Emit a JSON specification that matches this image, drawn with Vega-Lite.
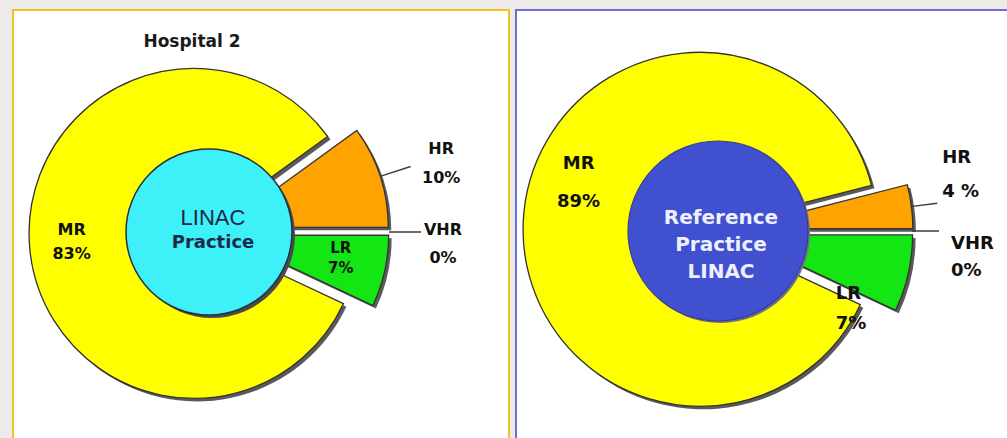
{
  "$schema": "https://vega.github.io/schema/vega-lite/v6.json",
  "background": "#ecebe8",
  "padding": {"left": 12, "top": 9, "right": 0, "bottom": 0},
  "spacing": 7,
  "bounds": "flush",
  "resolve": {"scale": {"theta": "independent", "color": "independent"}},
  "config": {
    "text": {"font": "DejaVu Sans", "fontWeight": "bold", "color": "#111111"}
  },
  "hconcat": [
    {
      "width": 496,
      "height": 430,
      "view": {"fill": "#ffffff", "stroke": "#f3c31c", "strokeWidth": 2},
      "title": {
        "text": "Hospital 2",
        "font": "DejaVu Sans",
        "fontSize": 17,
        "fontWeight": "bold",
        "color": "#1a1a1a",
        "anchor": "middle",
        "dx": -69,
        "offset": -54,
        "baseline": "alphabetic"
      },
      "data": {
        "values": [
          {"risk": "HR", "pct": 10, "pctText": "10%"},
          {"risk": "VHR", "pct": 0, "pctText": "0%"},
          {"risk": "LR", "pct": 7, "pctText": "7%"},
          {"risk": "MR", "pct": 83, "pctText": "83%"}
        ]
      },
      "transform": [
        {"stack": "pct", "groupby": [], "as": ["t0", "t1"]},
        {"calculate": "(datum.t0 + datum.t1) / 2", "as": "tm"},
        {"calculate": "datum.risk + '\\n' + datum.pctText", "as": "label"}
      ],
      "layer": [
        {
          "transform": [{"filter": "datum.pct > 0"}],
          "mark": {
            "type": "arc", "outerRadius": 165, "innerRadius": 0, "x": 196, "y": 222,
            "fill": "#5a5a5a",
            "xOffset": {"expr": "3 + 15 * sin(0.94248 + datum.tm * 0.0628319)"},
            "yOffset": {"expr": "3 - 15 * cos(0.94248 + datum.tm * 0.0628319)"}
          },
          "encoding": {
            "theta": {"field": "t0", "type": "quantitative", "stack": null, "scale": {"domain": [0, 100], "range": [0.94248, 7.22566]}},
            "theta2": {"field": "t1"}
          }
        },
        {
          "transform": [{"filter": "datum.pct > 0"}],
          "mark": {
            "type": "arc", "outerRadius": 165, "innerRadius": 0, "x": 196, "y": 222,
            "stroke": "#333333", "strokeWidth": 1.3,
            "xOffset": {"expr": "15 * sin(0.94248 + datum.tm * 0.0628319)"},
            "yOffset": {"expr": "-15 * cos(0.94248 + datum.tm * 0.0628319)"}
          },
          "encoding": {
            "theta": {"field": "t0", "type": "quantitative", "stack": null, "scale": {"domain": [0, 100], "range": [0.94248, 7.22566]}},
            "theta2": {"field": "t1"},
            "color": {
              "field": "risk", "type": "nominal", "legend": null,
              "scale": {"domain": ["HR", "VHR", "LR", "MR"], "range": ["#ffa300", "#ffffff", "#14e614", "#ffff00"]}
            }
          }
        },
        {
          "transform": [{"filter": "datum.risk == 'HR' || datum.risk == 'VHR'"}],
          "mark": {
            "type": "arc", "x": 196, "y": 222, "fill": "#3c3c3c",
            "thetaOffset": -0.0035, "theta2Offset": 0.0035
          },
          "encoding": {
            "theta": {"field": "tm", "type": "quantitative", "stack": null, "scale": {"domain": [0, 100], "range": [0.94248, 7.22566]}},
            "theta2": {"field": "tm"},
            "radius": {"value": 212},
            "radius2": {"value": 180}
          }
        },
        {
          "data": {"values": [{"centre": "LINAC Practice"}]},
          "mark": {
            "type": "point", "shape": "circle", "filled": true, "opacity": 1,
            "size": 27556, "x": 199, "y": 225, "fill": "#4a4a4a", "strokeWidth": 0
          },
          "encoding": {}
        },
        {
          "data": {"values": [{"centre": "LINAC Practice"}]},
          "mark": {
            "type": "point", "shape": "circle", "filled": true, "opacity": 1,
            "size": 27556, "x": 196, "y": 222, "fill": "#3ef0f8",
            "stroke": "#24323f", "strokeWidth": 1.5
          },
          "encoding": {}
        },
        {
          "data": {"values": [{"line": "LINAC"}]},
          "mark": {
            "type": "text", "x": 200, "y": 208, "align": "center", "baseline": "middle",
            "font": "Liberation Sans", "fontWeight": "normal", "fontSize": 22, "color": "#1b2a48"
          },
          "encoding": {"text": {"field": "line"}}
        },
        {
          "data": {"values": [{"line": "Practice"}]},
          "mark": {
            "type": "text", "x": 200, "y": 233, "align": "center", "baseline": "middle",
            "fontSize": 18, "color": "#1b2a48"
          },
          "encoding": {"text": {"field": "line"}}
        },
        {
          "transform": [{"filter": "datum.risk == 'MR'"}],
          "mark": {
            "type": "text", "x": 196, "y": 222, "radius": 138, "dy": -15,
            "align": "center", "baseline": "middle", "lineBreak": "\n", "lineHeight": 24, "fontSize": 16
          },
          "encoding": {
            "theta": {"field": "tm", "type": "quantitative", "stack": null, "scale": {"domain": [0, 100], "range": [0.94248, 7.22566]}},
            "text": {"field": "label"}
          }
        },
        {
          "transform": [{"filter": "datum.risk == 'HR'"}],
          "mark": {
            "type": "text", "x": 196, "y": 222, "radius": 242, "dx": 2, "dy": -8,
            "align": "center", "baseline": "middle", "lineBreak": "\n", "lineHeight": 29, "fontSize": 16
          },
          "encoding": {
            "theta": {"field": "tm", "type": "quantitative", "stack": null, "scale": {"domain": [0, 100], "range": [0.94248, 7.22566]}},
            "text": {"field": "label"}
          }
        },
        {
          "transform": [{"filter": "datum.risk == 'VHR'"}],
          "mark": {
            "type": "text", "x": 196, "y": 222, "radius": 234, "dy": -2,
            "align": "center", "baseline": "middle", "lineBreak": "\n", "lineHeight": 28, "fontSize": 16
          },
          "encoding": {
            "theta": {"field": "tm", "type": "quantitative", "stack": null, "scale": {"domain": [0, 100], "range": [0.94248, 7.22566]}},
            "text": {"field": "label"}
          }
        },
        {
          "transform": [{"filter": "datum.risk == 'LR'"}],
          "mark": {
            "type": "text", "x": 196, "y": 222, "radius": 135, "dy": -13,
            "align": "center", "baseline": "middle", "lineBreak": "\n", "lineHeight": 20, "fontSize": 15
          },
          "encoding": {
            "theta": {"field": "tm", "type": "quantitative", "stack": null, "scale": {"domain": [0, 100], "range": [0.94248, 7.22566]}},
            "text": {"field": "label"}
          }
        }
      ]
    },
    {
      "width": 493,
      "height": 430,
      "view": {"fill": "#ffffff", "stroke": "#6b70d6", "strokeWidth": 2},
      "data": {
        "values": [
          {"risk": "HR", "pct": 4, "pctText": "4 %"},
          {"risk": "VHR", "pct": 0, "pctText": "0%"},
          {"risk": "LR", "pct": 7, "pctText": "7%"},
          {"risk": "MR", "pct": 89, "pctText": "89%"}
        ]
      },
      "transform": [
        {"stack": "pct", "groupby": [], "as": ["t0", "t1"]},
        {"calculate": "(datum.t0 + datum.t1) / 2", "as": "tm"},
        {"calculate": "datum.risk + '\\n' + datum.pctText", "as": "label"}
      ],
      "layer": [
        {
          "transform": [{"filter": "datum.pct > 0"}],
          "mark": {
            "type": "arc", "outerRadius": 177, "innerRadius": 0, "x": 202, "y": 221,
            "fill": "#5a5a5a",
            "xOffset": {"expr": "3 + 18 * sin(1.31947 + datum.tm * 0.0628319)"},
            "yOffset": {"expr": "3 - 18 * cos(1.31947 + datum.tm * 0.0628319)"}
          },
          "encoding": {
            "theta": {"field": "t0", "type": "quantitative", "stack": null, "scale": {"domain": [0, 100], "range": [1.31947, 7.60265]}},
            "theta2": {"field": "t1"}
          }
        },
        {
          "transform": [{"filter": "datum.pct > 0"}],
          "mark": {
            "type": "arc", "outerRadius": 177, "innerRadius": 0, "x": 202, "y": 221,
            "stroke": "#333333", "strokeWidth": 1.3,
            "xOffset": {"expr": "18 * sin(1.31947 + datum.tm * 0.0628319)"},
            "yOffset": {"expr": "-18 * cos(1.31947 + datum.tm * 0.0628319)"}
          },
          "encoding": {
            "theta": {"field": "t0", "type": "quantitative", "stack": null, "scale": {"domain": [0, 100], "range": [1.31947, 7.60265]}},
            "theta2": {"field": "t1"},
            "color": {
              "field": "risk", "type": "nominal", "legend": null,
              "scale": {"domain": ["HR", "VHR", "LR", "MR"], "range": ["#ffa300", "#ffffff", "#14e614", "#ffff00"]}
            }
          }
        },
        {
          "transform": [{"filter": "datum.risk == 'HR' || datum.risk == 'VHR'"}],
          "mark": {
            "type": "arc", "x": 202, "y": 221, "fill": "#3c3c3c",
            "thetaOffset": -0.0033, "theta2Offset": 0.0033
          },
          "encoding": {
            "theta": {"field": "tm", "type": "quantitative", "stack": null, "scale": {"domain": [0, 100], "range": [1.31947, 7.60265]}},
            "theta2": {"field": "tm"},
            "radius": {"value": 221},
            "radius2": {"value": 194}
          }
        },
        {
          "data": {"values": [{"centre": "Reference Practice LINAC"}]},
          "mark": {
            "type": "point", "shape": "circle", "filled": true, "opacity": 1,
            "size": 32400, "x": 204, "y": 223, "fill": "#6f6f90", "strokeWidth": 0
          },
          "encoding": {}
        },
        {
          "data": {"values": [{"centre": "Reference Practice LINAC"}]},
          "mark": {
            "type": "point", "shape": "circle", "filled": true, "opacity": 1,
            "size": 32400, "x": 202, "y": 221, "fill": "#4150cf",
            "stroke": "#39408a", "strokeWidth": 1.2
          },
          "encoding": {}
        },
        {
          "data": {"values": [{"centre": "Reference\nPractice\nLINAC"}]},
          "mark": {
            "type": "text", "x": 205, "y": 208, "align": "center", "baseline": "middle",
            "lineBreak": "\n", "lineHeight": 27, "fontSize": 20, "color": "#eef0ff"
          },
          "encoding": {"text": {"field": "centre"}}
        },
        {
          "transform": [{"filter": "datum.risk == 'MR'"}],
          "mark": {
            "type": "text", "x": 202, "y": 221, "radius": 140, "dy": -54,
            "align": "center", "baseline": "middle", "lineBreak": "\n", "lineHeight": 38, "fontSize": 18
          },
          "encoding": {
            "theta": {"field": "tm", "type": "quantitative", "stack": null, "scale": {"domain": [0, 100], "range": [1.31947, 7.60265]}},
            "text": {"field": "label"}
          }
        },
        {
          "transform": [{"filter": "datum.risk == 'HR'"}],
          "mark": {
            "type": "text", "x": 202, "y": 221, "radius": 226, "dy": -45,
            "align": "left", "baseline": "middle", "lineBreak": "\n", "lineHeight": 34, "fontSize": 18
          },
          "encoding": {
            "theta": {"field": "tm", "type": "quantitative", "stack": null, "scale": {"domain": [0, 100], "range": [1.31947, 7.60265]}},
            "text": {"field": "label"}
          }
        },
        {
          "transform": [{"filter": "datum.risk == 'VHR'"}],
          "mark": {
            "type": "text", "x": 202, "y": 221, "radius": 233, "dy": 13,
            "align": "left", "baseline": "middle", "lineBreak": "\n", "lineHeight": 27, "fontSize": 18
          },
          "encoding": {
            "theta": {"field": "tm", "type": "quantitative", "stack": null, "scale": {"domain": [0, 100], "range": [1.31947, 7.60265]}},
            "text": {"field": "label"}
          }
        },
        {
          "transform": [{"filter": "datum.risk == 'LR'"}],
          "mark": {
            "type": "text", "x": 202, "y": 221, "radius": 134, "dx": -13, "dy": 34,
            "align": "left", "baseline": "middle", "lineBreak": "\n", "lineHeight": 30, "fontSize": 18
          },
          "encoding": {
            "theta": {"field": "tm", "type": "quantitative", "stack": null, "scale": {"domain": [0, 100], "range": [1.31947, 7.60265]}},
            "text": {"field": "label"}
          }
        }
      ]
    }
  ]
}
